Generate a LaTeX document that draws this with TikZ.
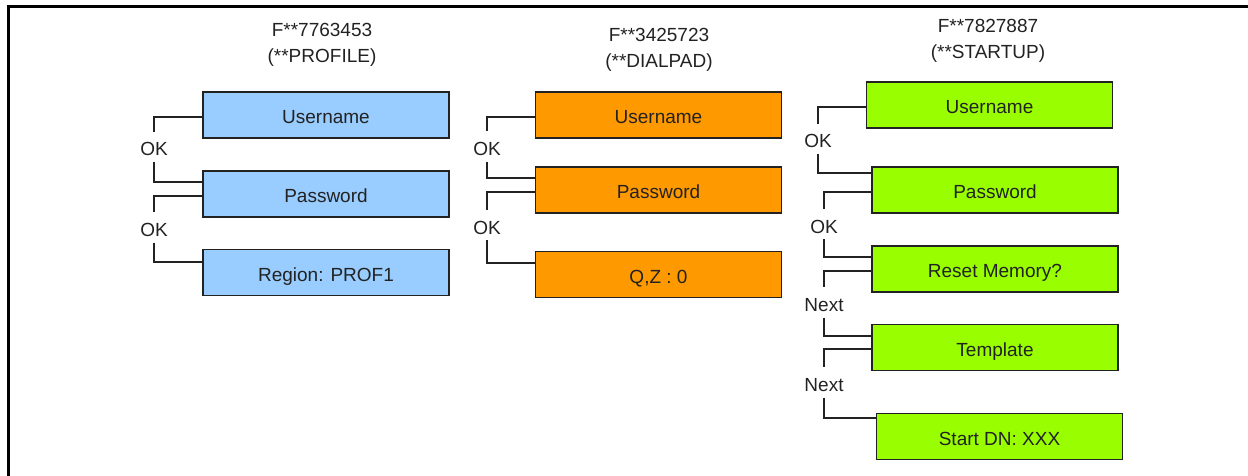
\documentclass[tikz,border=0pt]{standalone}
\usepackage{fontspec}
\setmainfont{Liberation Sans}
\definecolor{bluebox}{HTML}{99CCFF}
\definecolor{orangebox}{HTML}{FF9900}
\definecolor{greenbox}{HTML}{99FF00}
\definecolor{ink}{HTML}{222222}
\begin{document}
\begin{tikzpicture}[x=1pt,y=-1pt,
  every node/.style={font=\fontsize{19}{26}\selectfont, text=ink},
  box/.style={draw=ink, line width=1.6pt, minimum width=246pt, minimum height=46pt, inner sep=0pt, text height=17.6pt, text depth=0pt},
  bbox/.style={box, fill=bluebox},
  obox/.style={box, fill=orangebox},
  gbox/.style={box, fill=greenbox},
  lab/.style={inner xsep=0pt, inner ysep=6pt, text height=18pt, text depth=0pt},
  title/.style={align=center},
  conn/.style={draw=ink, line width=1.8pt}]
\useasboundingbox (0,0) rectangle (1248,476);
\draw[line width=3pt, black] (8.5,476) -- (8.5,7) -- (1248,7);

% Blue column
\node[title] (bt) at (322,45) {F**7763453\\(**PROFILE)};
\node[bbox] (bu) at (326,115) {Username};
\node[bbox] (bp) at (326,194) {Password};
\node[bbox] (br) at (326,272.5) {Region: PROF1};
\node[lab] (bok1) at (154,147) {OK};
\node[lab] (bok2) at (154,227.5) {OK};
\draw[conn] ([yshift=-2pt]bu.west) -| (bok1.north);
\draw[conn] (bok1.south) |- ([yshift=12pt]bp.west);
\draw[conn] ([yshift=-2pt]bp.west) -| (bok2.north);
\draw[conn] (bok2.south) |- ([yshift=10.5pt]br.west);

% Orange column
\node[title] (ot) at (659,50) {F**3425723\\(**DIALPAD)};
\node[obox] (ou) at (658.5,115) {Username};
\node[obox] (op) at (658.5,190) {Password};
\node[obox] (oq) at (658.5,274.5) {Q,Z : 0};
\node[lab] (ook1) at (487,146.5) {OK};
\node[lab] (ook2) at (487,225) {OK};
\draw[conn] ([yshift=-2pt]ou.west) -| (ook1.north);
\draw[conn] (ook1.south) |- ([yshift=12pt]op.west);
\draw[conn] ([yshift=-2pt]op.west) -| (ook2.north);
\draw[conn] (ook2.south) |- ([yshift=11.5pt]oq.west);

% Green column
\node[title] (gt) at (988,41) {F**7827887\\(**STARTUP)};
\node[gbox] (gu) at (989.5,105) {Username};
\node[gbox] (gp) at (995,190) {Password};
\node[gbox] (gr) at (995,269) {Reset Memory?};
\node[gbox] (gtm) at (995,347.5) {Template};
\node[gbox] (gs) at (999.5,436.5) {Start DN: XXX};
\node[lab] (gok1) at (818,139) {OK};
\node[lab] (gok2) at (824,224) {OK};
\node[lab] (gnx1) at (824,302.5) {Next};
\node[lab] (gnx2) at (824,382.5) {Next};
\draw[conn] ([yshift=-2pt]gu.west) -| (gok1.north);
\draw[conn] (gok1.south) |- ([yshift=17pt]gp.west);
\draw[conn] ([yshift=-2pt]gp.west) -| (gok2.north);
\draw[conn] (gok2.south) |- ([yshift=12pt]gr.west);
\draw[conn] ([yshift=-2pt]gr.west) -| (gnx1.north);
\draw[conn] (gnx1.south) |- ([yshift=11.5pt]gtm.west);
\draw[conn] ([yshift=-1.5pt]gtm.west) -| (gnx2.north);
\draw[conn] (gnx2.south) |- ([yshift=18.5pt]gs.west);
\end{tikzpicture}
\end{document}
